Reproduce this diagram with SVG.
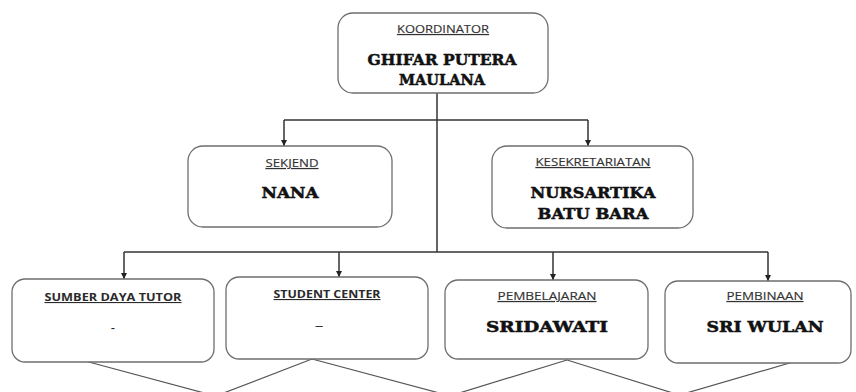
<svg xmlns="http://www.w3.org/2000/svg" width="856" height="392" viewBox="0 0 856 392">
  <defs>
    <marker id="arrow" viewBox="0 0 6 6" refX="6" refY="3" markerWidth="6" markerHeight="6" markerUnits="userSpaceOnUse" orient="auto">
      <path d="M0,0 L6,3 L0,6 Z" fill="#222"/>
    </marker>
    <style>
      .box { fill: #fff; stroke: #6e6e6e; stroke-width: 1.3; }
      .wire { fill: none; stroke: #333; stroke-width: 1.5; }
      .diag { fill: none; stroke: #555; stroke-width: 1.2; }
      .role { font-family: "Open Sans", "Liberation Sans", sans-serif; font-size: 10.5px; fill: #333; stroke: #333; stroke-width: 0.15; text-decoration: underline; text-anchor: middle; }
      .role-b { font-family: "Open Sans", "Liberation Sans", sans-serif; font-size: 11px; font-weight: bold; fill: #2a2a2a; text-decoration: underline; text-anchor: middle; }
      .name { font-family: "DejaVu Serif", "Liberation Serif", serif; font-size: 15px; font-weight: bold; fill: #111; stroke: #111; stroke-width: 0.5; text-anchor: middle; }
      .dash { font-family: "Liberation Sans", sans-serif; font-size: 13px; fill: #222; text-anchor: middle; }
    </style>
  </defs>
  <rect width="856" height="392" fill="#fff"/>

  <!-- connectors -->
  <g id="connectors">
    <path class="wire" d="M437,93 V252"/>
    <path class="wire" d="M284,120 H588"/>
    <path class="wire" d="M284,120 V146" marker-end="url(#arrow)"/>
    <path class="wire" d="M588,120 V146" marker-end="url(#arrow)"/>
    <path class="wire" d="M124,252 H768"/>
    <path class="wire" d="M124,252 V279" marker-end="url(#arrow)"/>
    <path class="wire" d="M339,252 V277" marker-end="url(#arrow)"/>
    <path class="wire" d="M553,252 V280" marker-end="url(#arrow)"/>
    <path class="wire" d="M768,252 V281" marker-end="url(#arrow)"/>
    <!-- lines running below the lower row -->
    <path class="diag" d="M85,361 L208,394"/>
    <path class="diag" d="M312,359 L221,394"/>
    <path class="diag" d="M312,359 L443,394"/>
    <path class="diag" d="M567,360 L456,394"/>
    <path class="diag" d="M567,360 L676,394"/>
    <path class="diag" d="M793,362 L683,394"/>
  </g>

  <g id="koordinator">
    <rect class="box" x="338" y="13" width="210" height="80" rx="15"/>
    <text class="role" x="443" y="33" textLength="92" lengthAdjust="spacingAndGlyphs">KOORDINATOR</text>
    <text class="name" x="442" y="65" textLength="149" lengthAdjust="spacingAndGlyphs">GHIFAR PUTERA</text>
    <text class="name" x="442" y="85" textLength="86" lengthAdjust="spacingAndGlyphs">MAULANA</text>
  </g>

  <g id="sekjend">
    <rect class="box" x="188" y="146" width="204" height="81" rx="15"/>
    <text class="role" x="292" y="167" textLength="53" lengthAdjust="spacingAndGlyphs">SEKJEND</text>
    <text class="name" x="290" y="198" textLength="57" lengthAdjust="spacingAndGlyphs">NANA</text>
  </g>

  <g id="kesekretariatan">
    <rect class="box" x="492" y="146" width="201" height="82" rx="15"/>
    <text class="role" x="593" y="166" textLength="115" lengthAdjust="spacingAndGlyphs">KESEKRETARIATAN</text>
    <text class="name" x="593" y="198" textLength="125" lengthAdjust="spacingAndGlyphs">NURSARTIKA</text>
    <text class="name" x="593" y="219" textLength="111" lengthAdjust="spacingAndGlyphs">BATU BARA</text>
  </g>

  <g id="sumber-daya-tutor">
    <rect class="box" x="12" y="279" width="202" height="83" rx="13"/>
    <text class="role-b" x="113" y="301" textLength="137" lengthAdjust="spacingAndGlyphs">SUMBER DAYA TUTOR</text>
    <text class="dash" x="113" y="332">-</text>
  </g>

  <g id="student-center">
    <rect class="box" x="226" y="277" width="202" height="82" rx="13"/>
    <text class="role-b" x="327" y="298" textLength="107" lengthAdjust="spacingAndGlyphs">STUDENT CENTER</text>
    <text class="dash" x="319" y="330">–</text>
  </g>

  <g id="pembelajaran">
    <rect class="box" x="445" y="280" width="203" height="79" rx="13"/>
    <text class="role" x="547" y="300" textLength="99" lengthAdjust="spacingAndGlyphs">PEMBELAJARAN</text>
    <text class="name" x="547" y="332" textLength="122" lengthAdjust="spacingAndGlyphs">SRIDAWATI</text>
  </g>

  <g id="pembinaan">
    <rect class="box" x="665" y="281" width="186" height="82" rx="13"/>
    <text class="role" x="765" y="300" textLength="77" lengthAdjust="spacingAndGlyphs">PEMBINAAN</text>
    <text class="name" x="765" y="332" textLength="117" lengthAdjust="spacingAndGlyphs">SRI WULAN</text>
  </g>
</svg>
